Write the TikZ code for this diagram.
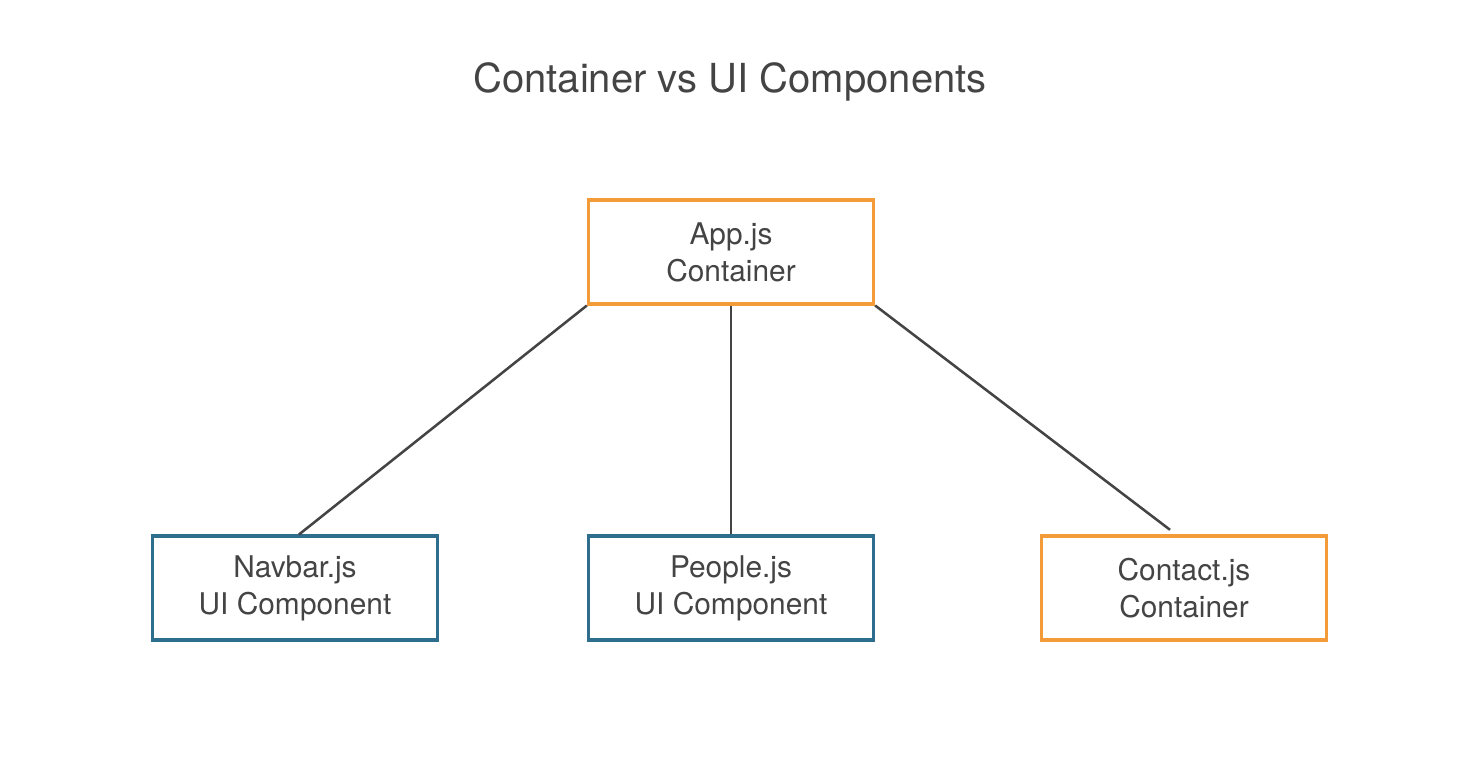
\documentclass[tikz,border=0pt]{standalone}
\usepackage{fontspec}
\setmainfont{TeX Gyre Heros}
\usetikzlibrary{positioning}
\definecolor{txtgray}{HTML}{444444}
\definecolor{contorange}{HTML}{F39B38}
\definecolor{uiblue}{HTML}{2F6D8C}

\tikzset{
  compbox/.style={draw,line width=2.3pt,minimum width=214pt,minimum height=78pt,
    inner sep=0pt,align=center,text=txtgray,
    font=\fontsize{22.4}{27.75}\selectfont},
  container/.style={compbox,draw=contorange},
  uicomp/.style={compbox,draw=uiblue},
  link/.style={draw=txtgray,line width=1.9pt}
}

\begin{document}
\begin{tikzpicture}[x=0.75pt,y=-0.75pt]
\useasboundingbox (0,0) rectangle (1484,772);

\node[anchor=base,text=txtgray,font=\fontsize{30}{36}\selectfont] (title) at (730,92) {Container vs UI Components};

\node[container] (app) at (731,252) {App.js\\Container};

\foreach \name/\x/\kind/\label in {nav/295/uicomp/{Navbar.js\\UI Component},
                                   people/731/uicomp/{People.js\\UI Component},
                                   contact/1184/container/{Contact.js\\Container}}
  \node[\kind] (\name) at (\x,588) {\label};

\coordinate (cend) at ([xshift=-10.5pt,yshift=3.5pt]contact.north);

\draw[link] (app.south west) -- ([xshift=3pt]nav.north);
\draw[link] (app.south) -- (people.north);
\draw[link] (app.south east) -- (cend);

\end{tikzpicture}
\end{document}
